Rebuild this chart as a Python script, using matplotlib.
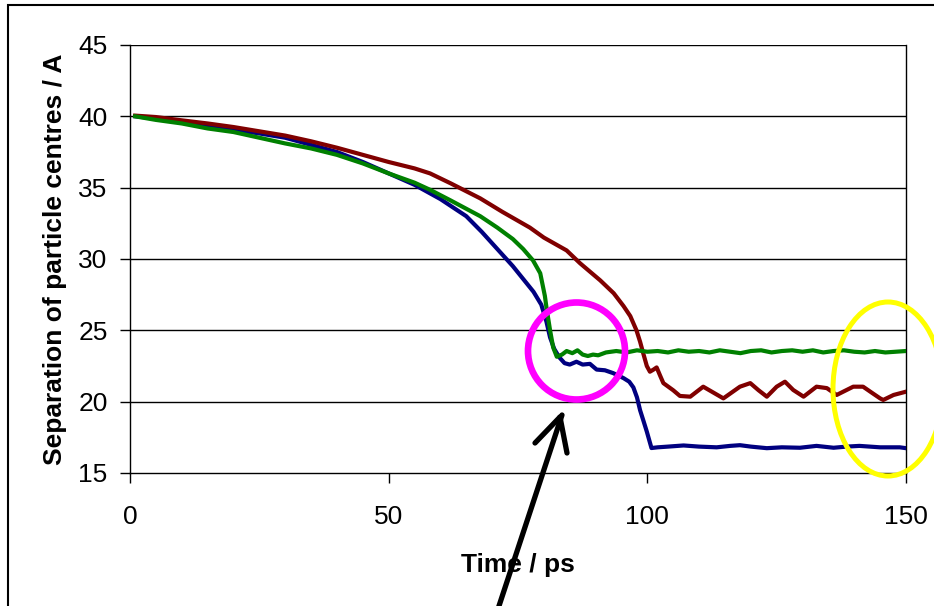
import matplotlib.pyplot as plt
from matplotlib.patches import Ellipse, Rectangle
from matplotlib.lines import Line2D

plt.rcParams['font.family'] = ['Liberation Sans', 'DejaVu Sans']

# time (ps) and separation (A) for the three runs
blue_t = [1, 5, 10, 15, 20, 25, 30, 35, 40, 45, 50, 55, 60, 65, 68, 71.5, 74, 76, 78, 79.5,
          80.5, 81.2, 82, 83, 84, 85, 86.3, 87.5, 88.9, 90.2, 91.8, 93.4, 95.4, 96.5, 97.3,
          98, 98.6, 99.3, 99.9, 100.8, 102, 104, 107, 110, 113.4, 116, 117.9, 120, 123.1,
          126, 129.5, 132.7, 136, 138.5, 141, 145, 148.8, 150]
blue_v = [40.0, 39.85, 39.6, 39.35, 39.05, 38.8, 38.5, 38.0, 37.5, 36.8, 36.0, 35.2, 34.2,
          33.0, 31.9, 30.5, 29.5, 28.6, 27.7, 26.8, 25.6, 24.5, 23.7, 23.1, 22.7, 22.6, 22.8,
          22.6, 22.65, 22.25, 22.2, 22.0, 21.65, 21.4, 21.0, 20.3, 19.4, 18.6, 17.9, 16.75,
          16.8, 16.85, 16.93, 16.85, 16.8, 16.9, 16.95, 16.85, 16.74, 16.8, 16.77, 16.9,
          16.77, 16.85, 16.9, 16.8, 16.8, 16.74]

green_t = [1, 5, 10, 15, 20, 25, 30, 35, 40, 45, 50, 55, 58, 62, 67.7, 71, 74, 76, 77.9,
           79.3, 80.2, 80.5, 81.2, 81.8, 82.5, 83.5, 84.4, 85.5, 86.5, 87.5, 88.5, 89.5,
           90.5, 92, 94, 96, 98, 100, 102, 104, 106, 108, 110, 112, 114, 116, 118, 120,
           122, 124, 126, 128, 130, 132, 134, 136, 138, 140, 142, 144, 146, 148, 150]
green_v = [40.0, 39.75, 39.5, 39.15, 38.9, 38.5, 38.1, 37.75, 37.3, 36.7, 36.0, 35.35,
           34.85, 34.1, 33.0, 32.2, 31.4, 30.7, 29.9, 29.0, 27.4, 26.6, 25.0, 23.8, 23.15,
           23.3, 23.55, 23.4, 23.6, 23.3, 23.2, 23.3, 23.25, 23.45, 23.55, 23.45, 23.6,
           23.5, 23.55, 23.45, 23.6, 23.5, 23.55, 23.45, 23.6, 23.5, 23.4, 23.55, 23.6,
           23.45, 23.55, 23.6, 23.5, 23.6, 23.45, 23.55, 23.6, 23.5, 23.45, 23.55, 23.45,
           23.5, 23.55]

red_t = [1, 5, 10, 15, 20, 25, 30, 35, 40, 45, 50, 55, 58, 62, 67.7, 72, 77.3, 80, 84.4,
         87, 90.9, 93.5, 95.4, 96.7, 97.9, 98.6, 99.2, 99.9, 100.5, 101.2, 101.8, 102.5,
         103.1, 105, 106.3, 108.3, 110.8, 114.7, 117.9, 119.9, 121.5, 123.1, 125, 126.6,
         128.2, 130.2, 132.7, 134.7, 136.6, 139.8, 141.7, 143.5, 145, 145.6, 147.6, 150]
red_v = [40.05, 39.95, 39.72, 39.5, 39.25, 38.95, 38.65, 38.25, 37.8, 37.3, 36.8, 36.35,
         36.0, 35.3, 34.25, 33.3, 32.2, 31.5, 30.6, 29.7, 28.5, 27.6, 26.7, 26.0, 25.0,
         24.2, 23.4, 22.5, 22.1, 22.25, 22.4, 21.8, 21.3, 20.8, 20.4, 20.35, 21.05, 20.23,
         21.05, 21.3, 20.8, 20.35, 21.05, 21.4, 20.82, 20.35, 21.05, 20.95, 20.47, 21.05,
         21.05, 20.6, 20.23, 20.12, 20.47, 20.7]

x_ticks = [0, 50, 100, 150]
y_ticks = [15, 20, 25, 30, 35, 40, 45]

W, H = 934, 606
fig = plt.figure(figsize=(9.34, 6.06), dpi=100)
ax = fig.add_axes([130 / W, 1 - 473 / H, 776 / W, 428 / H])

for y in y_ticks[1:]:
    ax.axhline(y, color='black', lw=1.0, zorder=1)

ax.plot(blue_t, blue_v, color='#000080', lw=3.0, zorder=3)
ax.plot(red_t, red_v, color='#800000', lw=3.0, zorder=3)
ax.plot(green_t, green_v, color='#008000', lw=3.0, zorder=3)

ax.set_xlim(0, 150)
ax.set_ylim(15, 45)
ax.set_xticks(x_ticks)
ax.set_yticks(y_ticks)
ax.tick_params(axis='both', direction='out', length=7.2, width=1.0, labelsize=19)
ax.tick_params(axis='x', pad=16)
ax.tick_params(axis='y', pad=9)
ax.spines['top'].set_visible(False)
for s in ['left', 'right', 'bottom']:
    ax.spines[s].set_linewidth(1.0)

ax.set_xlabel('Time / ps', fontsize=19, fontweight='bold', labelpad=17)
ax.set_ylabel('Separation of particle centres / A', fontsize=19, fontweight='bold', labelpad=8)

# outer frame, cut off at right and bottom
fig.patches.append(Rectangle((8 / W, -0.1), 1.2, 1 - 5 / H + 0.1, transform=fig.transFigure,
                             fill=False, edgecolor='black', lw=1.5))

# annotations
fig.patches.append(Ellipse((576.5 / W, 1 - 351 / H), 97 / W, 97 / H, transform=fig.transFigure,
                           fill=False, edgecolor='#ff00ff', lw=4.8, zorder=5))
fig.patches.append(Ellipse((888 / W, 1 - 389 / H), 110 / W, 174 / H, transform=fig.transFigure,
                           fill=False, edgecolor='#ffff00', lw=3.6, zorder=5))

tip = (560 / W, 1 - 417 / H)
arrow_lines = [
    [(497 / W, 562 / W), (1 - 612 / H, 1 - 415 / H)],
    [(535 / W, tip[0]), (1 - 443 / H, tip[1])],
    [(567 / W, tip[0]), (1 - 453 / H, tip[1])],
]
for xs, ys in arrow_lines:
    fig.lines.append(Line2D(xs, ys, transform=fig.transFigure, color='black', lw=3.8,
                            solid_capstyle='round', zorder=6))

fig.savefig('out.png', dpi=100)
